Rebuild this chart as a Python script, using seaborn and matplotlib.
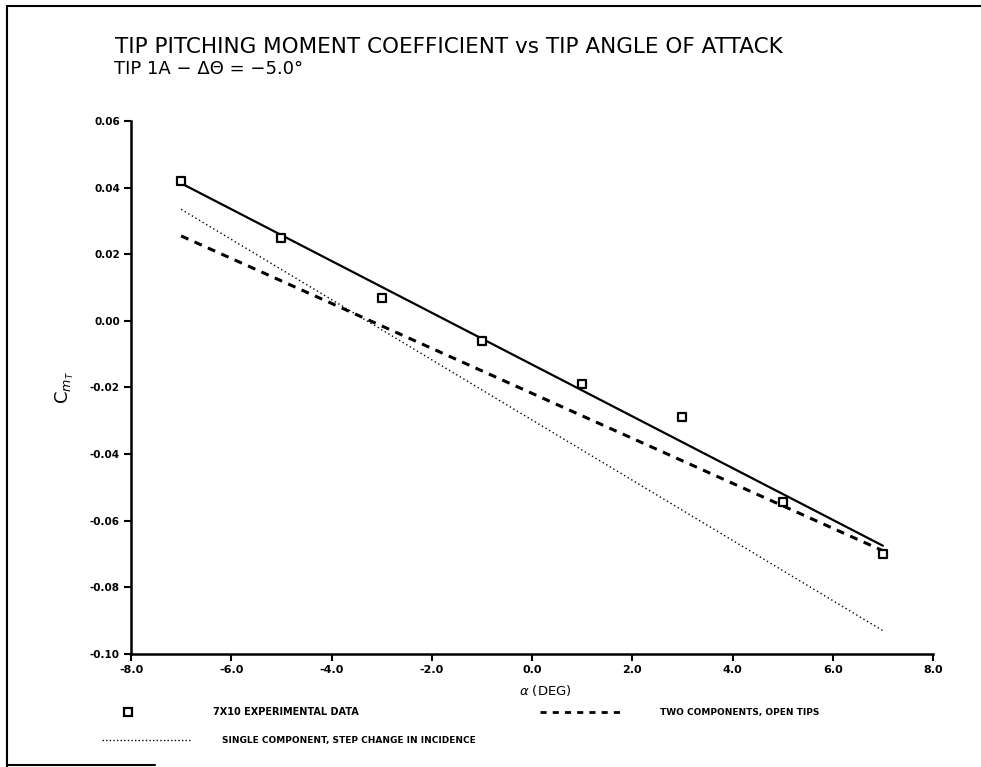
import matplotlib
matplotlib.use("Agg")
import matplotlib.pyplot as plt
from matplotlib.lines import Line2D
import seaborn as sns
import pandas as pd

# ---- data ----
alpha_exp = [-7.0, -5.0, -3.0, -1.0, 1.0, 3.0, 5.0, 7.0]
cm_exp = [0.042, 0.025, 0.007, -0.006, -0.019, -0.029, -0.0545, -0.070]

alpha_line = [-7.0, 7.0]
cm_fit = [0.0413, -0.0675]          # solid line through experimental data
cm_two_comp = [0.0255, -0.069]      # two components, open tips (dashed)
cm_single_comp = [0.0335, -0.093]   # single component, step change (dotted)

x_ticks = [-8.0, -6.0, -4.0, -2.0, 0.0, 2.0, 4.0, 6.0, 8.0]
y_ticks = [-0.10, -0.08, -0.06, -0.04, -0.02, 0.00, 0.02, 0.04, 0.06]

title = "TIP PITCHING MOMENT COEFFICIENT vs TIP ANGLE OF ATTACK"
subtitle = "TIP 1A \u2212 \u0394\u0398 = \u22125.0\u00b0"
legend_labels = ["7X10 EXPERIMENTAL DATA", "TWO COMPONENTS, OPEN TIPS",
                 "SINGLE COMPONENT, STEP CHANGE IN INCIDENCE"]

sns.set_style("ticks")
plt.rcParams['font.family'] = ['DejaVu Sans']
plt.rcParams['text.color'] = 'black'
plt.rcParams['xtick.color'] = 'black'
plt.rcParams['ytick.color'] = 'black'
plt.rcParams['axes.labelcolor'] = 'black'

W, H = 981, 767
fig = plt.figure(figsize=(W / 100, H / 100), dpi=100)
ax = fig.add_axes([131 / W, 1 - 654 / H, (933 - 131) / W, (654 - 121) / H])

df_fit = pd.DataFrame({"a": alpha_line, "fit": cm_fit, "two": cm_two_comp, "single": cm_single_comp})
df_exp = pd.DataFrame({"a": alpha_exp, "cm": cm_exp})

sns.lineplot(data=df_fit, x="a", y="fit", ax=ax, color="black", lw=1.6, zorder=3)
sns.lineplot(data=df_fit, x="a", y="two", ax=ax, color="black", lw=2.2, zorder=3,
             linestyle=(0, (2.6, 2.2)))
sns.lineplot(data=df_fit, x="a", y="single", ax=ax, color="black", lw=1.0, zorder=3,
             linestyle=(0, (1, 2.0)))
sns.scatterplot(data=df_exp, x="a", y="cm", ax=ax, marker="s", s=34,
                facecolor="white", edgecolor="black", linewidth=1.6, zorder=4)

ax.set_xlim(-8, 8)
ax.set_ylim(-0.10, 0.06)
ax.set_xticks(x_ticks)
ax.set_yticks(y_ticks)
ax.set_xticklabels([f"{v:.1f}" for v in x_ticks], fontsize=8, fontweight="bold")
ax.set_yticklabels([f"{v:.2f}" for v in y_ticks], fontsize=7.5, fontweight="bold")
ax.tick_params(axis="both", direction="out", length=5, width=1.5, color="black", pad=3)
for side in ["top", "right"]:
    ax.spines[side].set_visible(False)
for side in ["left", "bottom"]:
    ax.spines[side].set_linewidth(1.8)
    ax.spines[side].set_color("black")
ax.set_xlabel("")
ax.set_ylabel("")

# titles
fig.text(115 / W, 1 - 53 / H, title, fontsize=15.5, va="baseline", ha="left")
fig.text(114 / W, 1 - 74 / H, subtitle, fontsize=13, va="baseline", ha="left")

# axis labels
fig.text(65 / W, 1 - 387 / H, r"C$_{m_T}$", rotation=90, fontsize=13,
         ha="center", va="center")
fig.text(545 / W, 1 - 690 / H, r"$\alpha$ (DEG)", fontsize=9.5, ha="center", va="center")

# legend (manual, figure pixel coords)
def fx(px):
    return px / W

def fy(py):
    return 1 - py / H

fig.add_artist(Line2D([fx(128)], [fy(712)], marker="s", markersize=5.5,
                      markerfacecolor="white", markeredgecolor="black",
                      markeredgewidth=1.6, linestyle="none"))
fig.text(fx(213), fy(712), legend_labels[0], fontsize=7, fontweight="bold",
         va="center", ha="left")
fig.add_artist(Line2D([fx(540), fx(625)], [fy(712), fy(712)], color="black",
                      lw=2.0, linestyle=(0, (2.2, 2.2))))
fig.text(fx(660), fy(712), legend_labels[1], fontsize=6.5, fontweight="bold",
         va="center", ha="left")
fig.add_artist(Line2D([fx(102), fx(190)], [fy(740), fy(740)], color="black",
                      lw=1.0, linestyle=(0, (1, 1.6))))
fig.text(fx(222), fy(740), legend_labels[2], fontsize=6.5, fontweight="bold",
         va="center", ha="left")

# page border (scan frame)
fig.add_artist(Line2D([fx(7), fx(7)], [fy(6), fy(767)], color="black", lw=1.5))
fig.add_artist(Line2D([fx(7), fx(981)], [fy(6), fy(6)], color="black", lw=1.5))
fig.add_artist(Line2D([fx(7), fx(155)], [fy(765), fy(765)], color="black", lw=1.5))

fig.savefig("out.png", dpi=100)
